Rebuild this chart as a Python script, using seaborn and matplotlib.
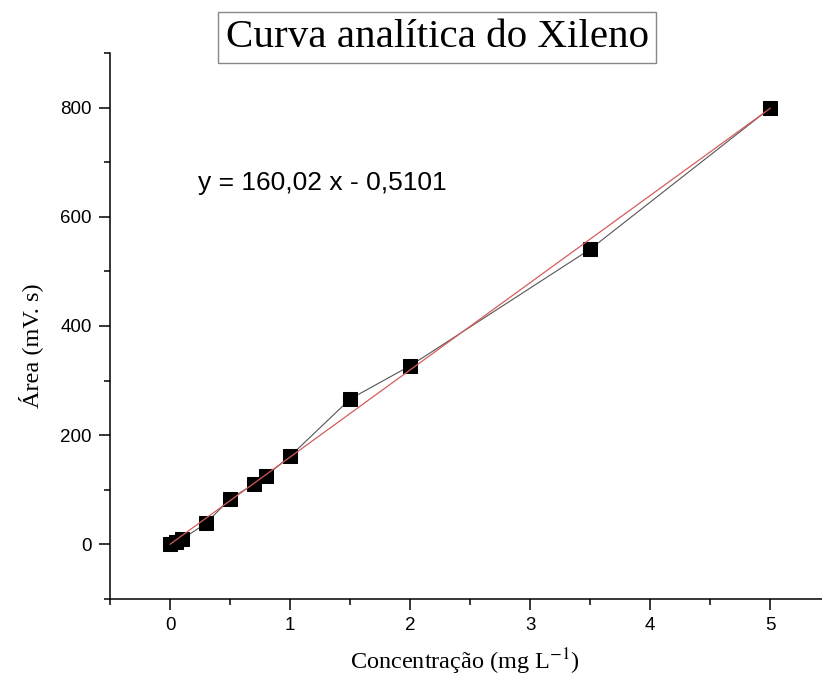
import numpy as np
import pandas as pd
import matplotlib
matplotlib.use("Agg")
import matplotlib.pyplot as plt
from matplotlib.ticker import MultipleLocator
import seaborn as sns

# Calibration data for xylene
concentracao = [0.0, 0.05, 0.1, 0.3, 0.5, 0.7, 0.8, 1.0, 1.5, 2.0, 3.5, 5.0]
area = [0.5, 4.5, 9.0, 38.0, 83.0, 110.0, 125.0, 161.0, 266.0, 327.0, 541.0, 800.0]

# Linear fit reported on the chart
slope = 160.02
intercept = -0.5101
fit_x = [0.0, 5.0]

sns.set_style("ticks", {"axes.edgecolor": "black", "xtick.color": "black",
                        "ytick.color": "black", "text.color": "black"})
plt.rcParams["font.family"] = ["Liberation Sans", "DejaVu Sans"]
plt.rcParams["mathtext.fontset"] = "stix"

fig = plt.figure(figsize=(8.22, 6.82), dpi=100)
ax = fig.add_axes([0.1338, 0.1224, 0.8662, 0.7992])

df = pd.DataFrame({"x": concentracao, "y": area})
fit_df = pd.DataFrame({"x": fit_x, "y": [slope * v + intercept for v in fit_x]})

sns.lineplot(data=df, x="x", y="y", ax=ax, color="#555555", lw=0.8,
             marker="s", markersize=9.5, markerfacecolor="black",
             markeredgecolor="black", zorder=3)
sns.lineplot(data=fit_df, x="x", y="y", ax=ax, color="#d65c5c", lw=0.9, zorder=4)

ax.set_xlim(-0.5, 5.43)
ax.set_ylim(-100, 900)
ax.xaxis.set_major_locator(MultipleLocator(1))
ax.xaxis.set_minor_locator(MultipleLocator(0.5))
ax.yaxis.set_major_locator(MultipleLocator(200))
ax.yaxis.set_minor_locator(MultipleLocator(100))
ax.tick_params(which="major", length=8, width=1.1, labelsize=13.5, pad=5,
               direction="out", colors="black")
ax.tick_params(which="minor", length=4.5, width=1.1, direction="out", colors="black")
for s in ("left", "bottom"):
    ax.spines[s].set_linewidth(1.1)
    ax.spines[s].set_color("black")
sns.despine(ax=ax)

ax.set_xlabel("")
ax.set_ylabel("")

serif = ["Liberation Serif", "DejaVu Serif"]
fig.text(0.566, 0.029, "Concentração (mg L$^{-1}$)", family=serif, fontsize=17.5,
         ha="center", va="center", color="black")
fig.text(0.037, 0.493, "Área (mV. s)", family=serif, fontsize=17.5,
         rotation=90, ha="center", va="center", color="black")

fig.text(0.532, 0.945, "Curva analítica do Xileno", family=serif, fontsize=29.5,
         ha="center", va="center", color="black",
         bbox=dict(boxstyle="square,pad=0.18", facecolor="white",
                   edgecolor="#888888", linewidth=1.0))

ax.text(0.235, 662, "y = 160,02 x - 0,5101", fontsize=19, ha="left", va="center",
        color="black")

fig.savefig("out.png", dpi=100)
